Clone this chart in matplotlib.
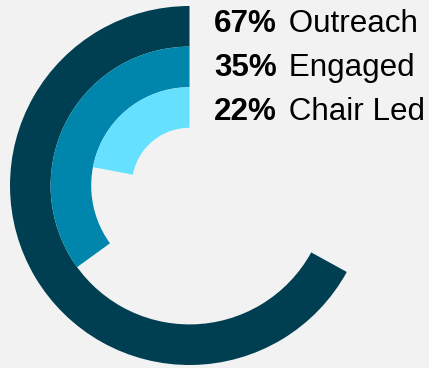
import matplotlib
matplotlib.use("Agg")
import matplotlib.pyplot as plt
from matplotlib.patches import Wedge

labels = ["Outreach", "Engaged", "Chair Led"]
values = [67, 35, 22]
colors = ["#003f51", "#0086ad", "#66e0ff"]

W, H = 429, 368
fig = plt.figure(figsize=(W / 100, H / 100), dpi=100, facecolor="#f2f2f2")
ax = fig.add_axes([0, 0, 1, 1])
ax.set_xlim(0, W)
ax.set_ylim(0, H)
ax.set_aspect("equal")
ax.axis("off")
ax.set_facecolor("#f2f2f2")

cx, cy = 189.5, H - 185.5
r_outer = 179.5
band = 40.6

# concentric arcs starting at 12 o'clock, running counterclockwise
for i, (v, c) in enumerate(zip(values, colors)):
    r = r_outer - i * band
    ax.add_patch(Wedge((cx, cy), r, 90, 90 + 360 * v / 100, width=band,
                       facecolor=c, edgecolor="none", antialiased=True))

fs = 22.6
baselines = [32.5, 76, 119.5]
for v, lab, b in zip(values, labels, baselines):
    t = ax.text(214, H - b, f"{v}%", fontsize=fs, fontweight="bold",
                family="Liberation Sans", va="baseline", ha="left", color="black")
    ax.annotate(f" {lab}", xy=(1, 0), xycoords=t, xytext=(2.2, 0),
                textcoords="offset points", va="bottom", ha="left",
                fontsize=fs, family="Liberation Sans", color="black")

fig.savefig("out.png", dpi=100, facecolor=fig.get_facecolor())
